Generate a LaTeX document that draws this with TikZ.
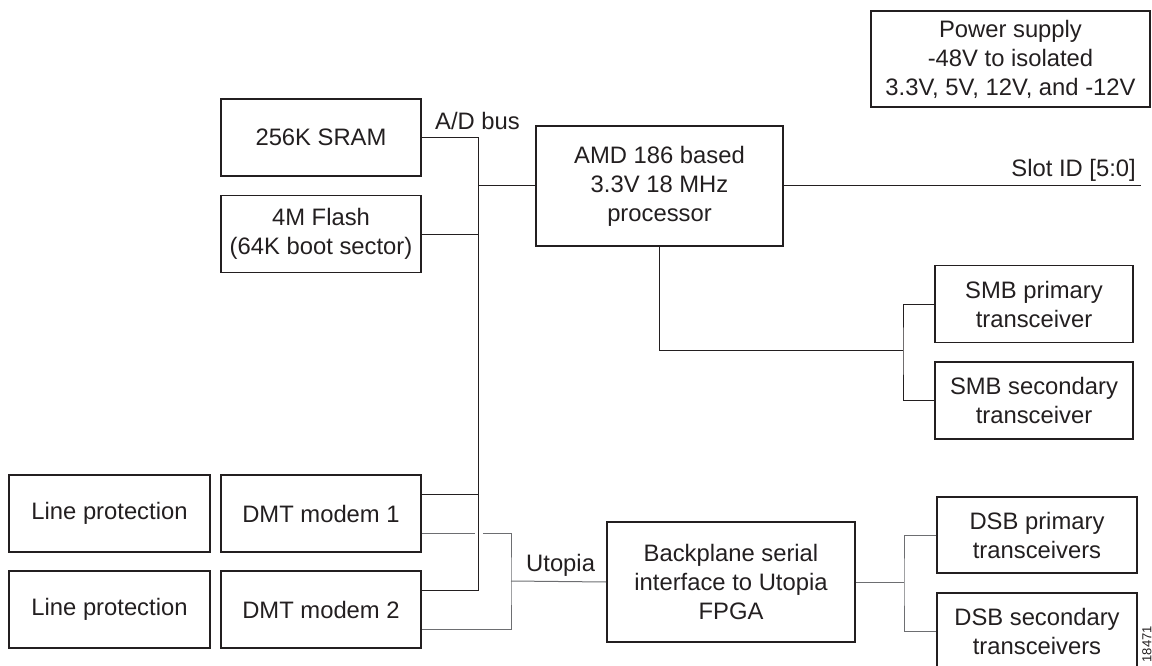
\documentclass[tikz,border=0pt]{standalone}
\usepackage{fontspec}
\setmainfont{Liberation Sans}
\usepackage{xcolor}
\usepackage{tikz}
\usetikzlibrary{calc}
\definecolor{encre}{HTML}{231F20}
\definecolor{gris}{HTML}{6D6E71}

\begin{document}
\begin{tikzpicture}[x=1pt, y=-1pt,
  boite/.style={draw=encre, line width=1.6pt, text=encre, align=center,
    minimum width=200pt, minimum height=77pt, inner sep=0pt,
    font=\fontsize{23.8}{29}\selectfont},
  trait/.style={draw=encre, line width=1pt},
  utop/.style={draw=gris, line width=1pt},
  etiq/.style={text=encre, inner sep=0pt, font=\fontsize{23.8}{29}\selectfont}]
\useasboundingbox (0,0) rectangle (1152,666);
\clip (0,0) rectangle (1152,666);

% Alimentation
\node[boite, minimum width=279pt, minimum height=96pt] (power) at (1010.5,59) {Power supply\\-48V to isolated\\3.3V, 5V, 12V, and -12V};

% Memoires
\node[boite] (sram) at (321,137.5) {256K SRAM};
\node[boite] (flash) at (321,234) {4M Flash\\(64K boot sector)};

% Processeur
\node[boite, minimum width=247pt, minimum height=120pt] (cpu) at (659.5,186) {AMD 186 based\\3.3V 18 MHz\\processor};

% Transceivers SMB
\node[boite, minimum width=198pt] (smb1) at (1034,304) {SMB primary\\transceiver};
\node[boite, minimum width=198pt] (smb2) at (1034,400.5) {SMB secondary\\transceiver};

% Modems DMT
\node[boite, minimum width=201pt] (lp1) at (109.5,513.5) {Line protection};
\node[boite] (dmt1) at (321,513.5) {DMT modem 1};
\node[boite, minimum width=201pt] (lp2) at (109.5,609.5) {Line protection};
\node[boite] (dmt2) at (321,609.5) {DMT modem 2};

% FPGA
\node[boite, minimum width=248pt, minimum height=120pt] (fpga) at (731,582) {Backplane serial\\interface to Utopia\\FPGA};

% Transceivers DSB
\node[boite, minimum height=76pt] (dsb1) at (1037,535) {DSB primary\\transceivers};
\node[boite, minimum height=76pt] (dsb2) at (1037,631) {DSB secondary\\transceivers};

% Bus A/D
\coordinate (busbas) at (478,590);
\draw[trait] (sram.east) -| (busbas) -- ([yshift=19.5pt]dmt2.east);
\draw[trait] (flash.east) -- (flash.east -| busbas);
\draw[trait] (cpu.west) -- (cpu.west -| busbas);
\draw[trait] ([yshift=19.5pt]dmt1.east) -- ([yshift=19.5pt]dmt1.east -| busbas);
\node[etiq, anchor=base west] (adbus) at (435,130) {A/D bus};

% Utopia
\coordinate (utj) at (511,581);
\draw[utop] ([yshift=-19.5pt]dmt1.east) -- ++(53,0) ++(8,0) -| (utj) |- ([yshift=-19.5pt]dmt2.east);
\draw[utop] (utj) -- (fpga.west);
\node[etiq, anchor=base west] (utopia) at (526,571) {Utopia};

% SMB
\coordinate (smbj) at (903,350);
\draw[trait] (cpu.south) |- (smbj);
\draw[trait] (smb1.west) -| (smbj) |- (smb2.west);

% Slot ID
\coordinate (slot) at (1141,185);
\draw[trait] (cpu.east) -- (cpu.east -| slot);
\node[etiq, anchor=base east] (slotid) at (1136,177) {Slot ID [5:0]};

% DSB
\coordinate (dsbj) at (904,581);
\draw[utop] (fpga.east) -- (fpga.east -| dsbj);
\draw[utop] (dsb1.west) -| (dsbj) |- (dsb2.west);

% Numero de figure
\node[rotate=90, anchor=east, inner sep=0pt, text=encre, font=\fontsize{13}{13}\selectfont] (numfig) at (1147,626) {18471};

\end{tikzpicture}
\end{document}
